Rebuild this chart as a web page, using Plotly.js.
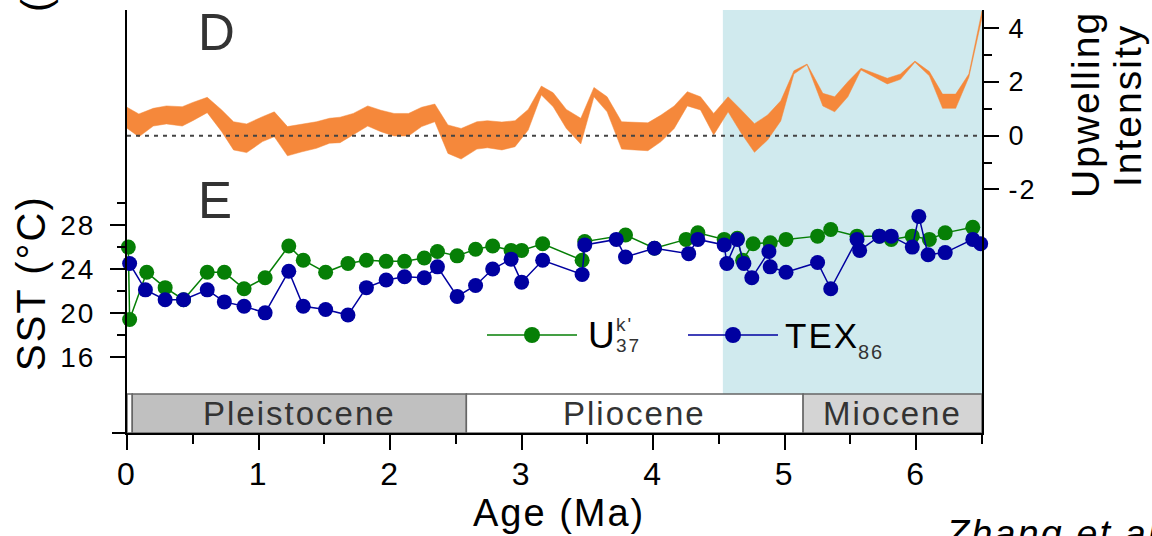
<!DOCTYPE html>
<html><head><meta charset="utf-8">
<script src="https://cdn.plot.ly/plotly-3.0.1.min.js"></script>
<style>
html,body{margin:0;padding:0;background:#fff;overflow:hidden;}
#chart{width:1152px;height:536px;}
#chart svg text{letter-spacing:2px;}
</style></head><body><div id="chart"></div>
<script>
// ---- data ----
const upwellAge   = [0.00,0.09,0.20,0.30,0.42,0.50,0.61,0.72,0.81,0.91,1.03,1.12,1.22,1.33,1.44,1.54,1.62,1.72,1.83,1.93,2.03,2.14,2.24,2.34,2.44,2.54,2.66,2.74,2.85,2.95,3.05,3.15,3.24,3.34,3.45,3.55,3.65,3.76,3.86,3.96,4.06,4.16,4.26,4.36,4.46,4.57,4.67,4.77,4.87,4.97,5.07,5.17,5.29,5.38,5.48,5.58,5.68,5.78,5.88,5.99,6.10,6.20,6.30,6.40,6.50];
const upwellUpper = [1.06,0.81,1.02,1.11,1.08,1.24,1.43,0.96,0.52,0.44,0.71,0.89,0.34,0.44,0.52,0.65,0.69,0.83,1.11,0.95,0.83,0.83,1.06,1.18,0.40,0.27,0.52,0.56,0.51,0.56,0.98,1.85,1.60,0.98,0.65,1.80,1.45,0.52,0.51,0.48,0.77,1.11,1.64,1.45,0.83,1.45,0.96,0.45,0.77,1.30,2.42,2.67,1.58,1.45,2.01,2.51,2.33,2.14,2.30,2.78,2.39,1.55,1.55,2.30,4.65];
const upwellLower = [0.28,-0.04,0.36,0.44,0.36,0.56,0.86,0.15,-0.53,-0.63,-0.22,-0.04,-0.75,-0.60,-0.47,-0.28,-0.26,0.03,0.36,0.15,-0.01,-0.01,0.34,0.52,-0.66,-0.87,-0.50,-0.45,-0.53,-0.41,0.21,1.52,1.08,0.27,-0.31,1.45,0.89,-0.50,-0.53,-0.56,-0.22,0.27,1.11,0.96,0.03,0.89,0.09,-0.62,-0.16,0.55,2.30,2.64,1.11,0.89,1.45,2.45,2.18,1.93,2.10,2.74,2.23,1.02,1.02,2.18,4.40];

const uk37Age = [0.01,0.02,0.15,0.29,0.43,0.61,0.74,0.89,1.05,1.23,1.34,1.51,1.68,1.82,1.97,2.11,2.26,2.36,2.51,2.65,2.78,2.92,3.00,3.16,3.46,3.48,3.79,4.01,4.25,4.34,4.54,4.64,4.68,4.76,4.89,5.01,5.25,5.35,5.55,5.72,5.81,5.97,6.10,6.22,6.43];
const uk37SST = [26.0,19.4,23.7,22.3,21.2,23.7,23.7,22.2,23.2,26.1,24.8,23.7,24.5,24.8,24.7,24.7,25.0,25.6,25.2,25.8,26.1,25.7,25.7,26.3,24.8,26.5,27.1,25.9,26.7,27.3,26.7,26.8,24.8,26.3,26.4,26.7,27.0,27.6,27.0,27.0,26.7,27.0,26.7,27.3,27.8];

const tex86Age = [0.02,0.14,0.29,0.43,0.61,0.74,0.89,1.05,1.23,1.34,1.51,1.68,1.82,1.97,2.11,2.26,2.36,2.51,2.65,2.78,2.92,3.00,3.16,3.46,3.48,3.72,3.79,4.01,4.27,4.34,4.54,4.56,4.64,4.69,4.75,4.88,4.89,5.01,5.25,5.35,5.55,5.57,5.72,5.81,5.97,6.02,6.09,6.22,6.43,6.49];
const tex86SST = [24.5,22.1,21.2,21.2,22.1,21.0,20.6,20.0,23.8,20.6,20.3,19.8,22.3,23.0,23.3,23.2,24.2,21.5,22.5,24.0,24.9,22.8,24.8,23.5,26.2,26.7,25.1,25.9,25.4,26.7,26.2,24.5,26.7,24.5,23.2,25.6,24.2,23.7,24.6,22.2,26.7,25.7,27.0,27.0,26.0,28.8,25.3,25.5,26.7,26.3];

const epochNames = ['', 'Pleistocene', 'Pliocene', 'Miocene'];
const epochStart = [0, 0.04, 2.58, 5.14];
const epochEnd   = [0.04, 2.58, 5.14, 6.5];
const upwellWindow = [4.53, 6.5];

const ageTicks = [0,1,2,3,4,5,6];
const ageMinor = [0.5,1.5,2.5,3.5,4.5,5.5,6.5];
const sstTicks = [16,20,24,28];
const sstMinor = [18,22,26,30];
const upTicks = [-2,0,2,4];
const upMinor = [-1,1,3];

// ---- style / layout helpers ----
const FONT = 'Liberation Sans, Arial, sans-serif';
const L = 127, R = 982, T = 10, B = 433;
const px = x => (x - L) / (R - L);
const py = y => (B - y) / (B - T);
const barTop = py(394);
const cOrange = '#f5883b', cGreen = '#067f06', cBlue = '#0000a0', cCyan = '#d0eaee';
const epochFill = ['#ffffff', '#c0c0c0', '#ffffff', '#d4d4d4'];

const traces = [
  {
    x: upwellAge.concat(upwellAge.slice().reverse()),
    y: upwellUpper.concat(upwellLower.slice().reverse()),
    yaxis: 'y2', type: 'scatter', mode: 'lines', fill: 'toself',
    fillcolor: cOrange, line: {color: cOrange, width: 0.5}, showlegend: false, hoverinfo: 'skip'
  },
  {
    x: uk37Age, y: uk37SST, type: 'scatter', mode: 'lines+markers', cliponaxis: false,
    line: {color: cGreen, width: 1.5}, marker: {color: cGreen, size: 15}, showlegend: false
  },
  {
    x: tex86Age, y: tex86SST, type: 'scatter', mode: 'lines+markers', cliponaxis: false,
    line: {color: cBlue, width: 1.5}, marker: {color: cBlue, size: 15}, showlegend: false
  }
];

const shapes = [
  {type: 'rect', xref: 'x', yref: 'paper', x0: upwellWindow[0], x1: upwellWindow[1], y0: barTop, y1: 1,
   fillcolor: cCyan, line: {width: 0}, layer: 'below'},
  {type: 'line', xref: 'paper', yref: 'y2', x0: 0, x1: 1, y0: 0, y1: 0,
   line: {color: '#444', width: 2, dash: '4px,5px'}},
  {type: 'line', xref: 'paper', yref: 'paper', x0: -15/(R-L), x1: 0, y0: 0, y1: 0,
   line: {color: '#000', width: 2}}
];
epochNames.forEach((n, i) => {
  shapes.push({type: 'rect', xref: 'x', yref: 'paper', x0: epochStart[i], x1: epochEnd[i], y0: 0, y1: barTop,
    fillcolor: epochFill[i], line: {color: '#666', width: 1.5}, layer: 'below'});
});

// legend keys
const legendKeys = [
  {x0: 487, x1: 577, xm: 532, color: cGreen},
  {x0: 688, x1: 778, xm: 733, color: cBlue}
];
legendKeys.forEach(k => {
  shapes.push({type: 'line', xref: 'paper', yref: 'paper', x0: px(k.x0), x1: px(k.x1), y0: py(335), y1: py(335),
    line: {color: k.color, width: 1.5}});
  shapes.push({type: 'circle', xref: 'paper', yref: 'paper', xsizemode: 'pixel', ysizemode: 'pixel',
    xanchor: px(k.xm), yanchor: py(335), x0: -8, x1: 8, y0: -8, y1: 8,
    fillcolor: k.color, line: {width: 0}});
});

const ann = (text, x, y, size, opts) => Object.assign({
  text, x, y, xref: 'paper', yref: 'paper', showarrow: false,
  xanchor: 'center', yanchor: 'middle', font: {family: FONT, size, color: '#000'}
}, opts || {});

const annotations = [
  ann('D', px(217), py(33), 51, {font: {family: FONT, size: 51, color: '#333'}}),
  ann('E', px(216), py(200), 51, {font: {family: FONT, size: 51, color: '#333'}}),
  ann('SST (°C)', px(31), py(283), 40, {textangle: -90}),
  ann('(', px(36), py(4), 40, {textangle: -90}),
  ann('Upwelling', px(1085), py(105), 39, {textangle: -90}),
  ann('Intensity', px(1127), py(105), 39, {textangle: -90}),
  ann('Age (Ma)', px(559), py(513), 38),
  ann('Zhang et al.', px(955), py(511), 38, {xanchor: 'left', yanchor: 'top',
     font: {family: FONT, size: 38, color: '#000', style: 'italic'}}),
  ann('U', px(587), py(335), 37, {xanchor: 'left'}),
  ann("k'", px(616), py(324), 19, {xanchor: 'left', font: {family: FONT, size: 19, color: '#333'}}),
  ann('37', px(616), py(345), 19, {xanchor: 'left', font: {family: FONT, size: 19, color: '#333'}}),
  ann('TEX', px(786), py(335), 35, {xanchor: 'left'}),
  ann('86', px(858), py(352), 20, {xanchor: 'left', font: {family: FONT, size: 20, color: '#333'}})
];
epochNames.forEach((n, i) => {
  if (!n) return;
  annotations.push({text: n, x: (epochStart[i] + epochEnd[i]) / 2, y: py(413.5), xref: 'x', yref: 'paper',
    showarrow: false, xanchor: 'center', yanchor: 'middle', font: {family: FONT, size: 33, color: '#333'}});
});

const axisCommon = {
  showgrid: false, zeroline: false, showline: true, linecolor: '#000', linewidth: 2,
  ticks: 'outside', tickcolor: '#000', tickwidth: 2, ticklen: 15, tickmode: 'array'
};

const layout = {
  width: 1152, height: 536,
  margin: {l: L, r: 1152 - R, t: T, b: 536 - B},
  paper_bgcolor: '#fff', plot_bgcolor: 'rgba(0,0,0,0)',
  font: {family: FONT, color: '#000'},
  showlegend: false,
  xaxis: Object.assign({}, axisCommon, {
    range: [0, 6.5], tickvals: ageTicks, ticktext: ageTicks.map(String),
    tickfont: {family: FONT, size: 32, color: '#000'}, ticklabelstandoff: -3,
    minor: {tickmode: 'array', tickvals: ageMinor, ticks: 'outside', ticklen: 9, tickwidth: 2, tickcolor: '#000'}
  }),
  yaxis: Object.assign({}, axisCommon, {
    range: [9.04, 47.63], tickvals: sstTicks, ticktext: sstTicks.map(String),
    tickfont: {family: FONT, size: 28, color: '#000'}, ticklabelstandoff: 9,
    minor: {tickmode: 'array', tickvals: sstMinor, ticks: 'outside', ticklen: 8, tickwidth: 2, tickcolor: '#000'}
  }),
  yaxis2: Object.assign({}, axisCommon, {
    overlaying: 'y', side: 'right', range: [-11.08, 4.685], tickvals: upTicks, ticktext: upTicks.map(String),
    tickfont: {family: FONT, size: 27, color: '#000'}, ticklabelstandoff: 4,
    minor: {tickmode: 'array', tickvals: upMinor, ticks: 'outside', ticklen: 8, tickwidth: 2, tickcolor: '#000'}
  }),
  shapes, annotations
};

Plotly.newPlot('chart', traces, layout, {staticPlot: true, displayModeBar: false});
</script></body></html>
